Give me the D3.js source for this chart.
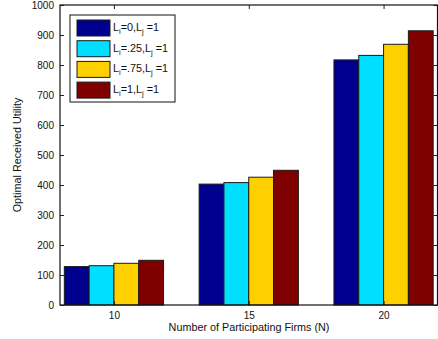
<!DOCTYPE html>
<html>
<head>
<meta charset="utf-8">
<script src="https://cdn.jsdelivr.net/npm/d3@7"></script>
<style>
  body { margin: 0; background: #fff; }
  svg { display: block; font-family: "Liberation Sans", Arial, sans-serif; }
</style>
</head>
<body>
<div id="chart"></div>
<script>
// data
const firms = [10, 15, 20];
const seriesNames = [["0"], [".25"], [".75"], ["1"]];
const seriesColors = ["#00008f", "#00dfff", "#ffd000", "#800000"];
const utility0 = [128, 403, 817];
const utility25 = [131, 408, 832];
const utility75 = [139, 426, 869];
const utility1 = [149, 449, 914];
const yTicks = [0, 100, 200, 300, 400, 500, 600, 700, 800, 900, 1000];

const series = [utility0, utility25, utility75, utility1];

const W = 438, H = 339;
const m = {left: 60, right: 0.5, top: 5, bottom: 34};

const svg = d3.select('#chart').append('svg')
    .attr('width', W).attr('height', H);

const x = d3.scaleLinear().domain([8, 22]).range([m.left, W - m.right]);
const y = d3.scaleLinear().domain([0, 1000]).range([H - m.bottom, m.top]);

const barW = 0.92; // in x units
const nS = series.length;

// bars
series.forEach(function (vals, s) {
    svg.append('g').selectAll('rect')
        .data(vals)
        .join('rect')
        .attr('x', (d, i) => x(firms[i] + (s - nS / 2) * barW))
        .attr('width', x(barW) - x(0))
        .attr('y', d => y(d))
        .attr('height', d => y(0) - y(d))
        .attr('fill', seriesColors[s])
        .attr('stroke', '#1a1a1a')
        .attr('stroke-width', 1);
});

// axes
const tick = 4;
const fs = '10px';
svg.append('g')
    .attr('transform', `translate(${m.left},0)`)
    .call(d3.axisLeft(y).tickValues(yTicks).tickSize(-tick).tickPadding(6).tickFormat(d3.format('d')))
    .call(g => g.select('.domain').remove())
    .call(g => g.selectAll('text').attr('font-size', fs).attr('fill', '#111').attr('font-family', null));
svg.append('g')
    .attr('transform', `translate(${W - m.right},0)`)
    .call(d3.axisRight(y).tickValues(yTicks).tickSize(-tick).tickFormat(''))
    .call(g => g.select('.domain').remove());
svg.append('g')
    .attr('transform', `translate(0,${H - m.bottom})`)
    .call(d3.axisBottom(x).tickValues(firms).tickSize(-tick).tickPadding(7))
    .call(g => g.select('.domain').remove())
    .call(g => g.selectAll('text').attr('font-size', fs).attr('fill', '#111').attr('font-family', null));
svg.append('g')
    .attr('transform', `translate(0,${m.top})`)
    .call(d3.axisTop(x).tickValues(firms).tickSize(-tick).tickFormat(''))
    .call(g => g.select('.domain').remove());
svg.selectAll('.tick line').attr('stroke', '#222');

// frame
svg.append('rect')
    .attr('x', m.left).attr('y', m.top)
    .attr('width', W - m.right - m.left).attr('height', H - m.bottom - m.top)
    .attr('fill', 'none').attr('stroke', '#111').attr('stroke-width', 1.2);

// axis labels
svg.append('text')
    .attr('x', 249)
    .attr('y', 331)
    .attr('text-anchor', 'middle')
    .attr('font-size', '10.8px').attr('fill', '#111')
    .text('Number of Participating Firms (N)');
svg.append('text')
    .attr('transform', `translate(21,${(m.top + H - m.bottom) / 2}) rotate(-90)`)
    .attr('text-anchor', 'middle')
    .attr('font-size', '10.8px').attr('fill', '#111')
    .text('Optimal Received Utility');

// legend
const lg = svg.append('g').attr('transform', 'translate(70,15)');
lg.append('rect')
    .attr('width', 105).attr('height', 87)
    .attr('fill', '#fff').attr('stroke', '#111').attr('stroke-width', 1);
seriesNames.forEach(function (nm, s) {
    const row = lg.append('g').attr('transform', `translate(7,${5 + s * 20.7})`);
    row.append('rect')
        .attr('width', 33).attr('height', 16)
        .attr('fill', seriesColors[s]).attr('stroke', '#1a1a1a');
    const t = row.append('text')
        .attr('x', 36).attr('y', 11)
        .attr('font-size', '10.8px').attr('fill', '#111');
    t.append('tspan').text('L');
    t.append('tspan').attr('font-size', '7.5px').attr('dy', 3).text('i');
    t.append('tspan').attr('dy', -3).text('=' + nm[0] + ',L');
    t.append('tspan').attr('font-size', '7.5px').attr('dy', 3).text('j');
    t.append('tspan').attr('dy', -3).text(' =1');
});
</script>
</body>
</html>
